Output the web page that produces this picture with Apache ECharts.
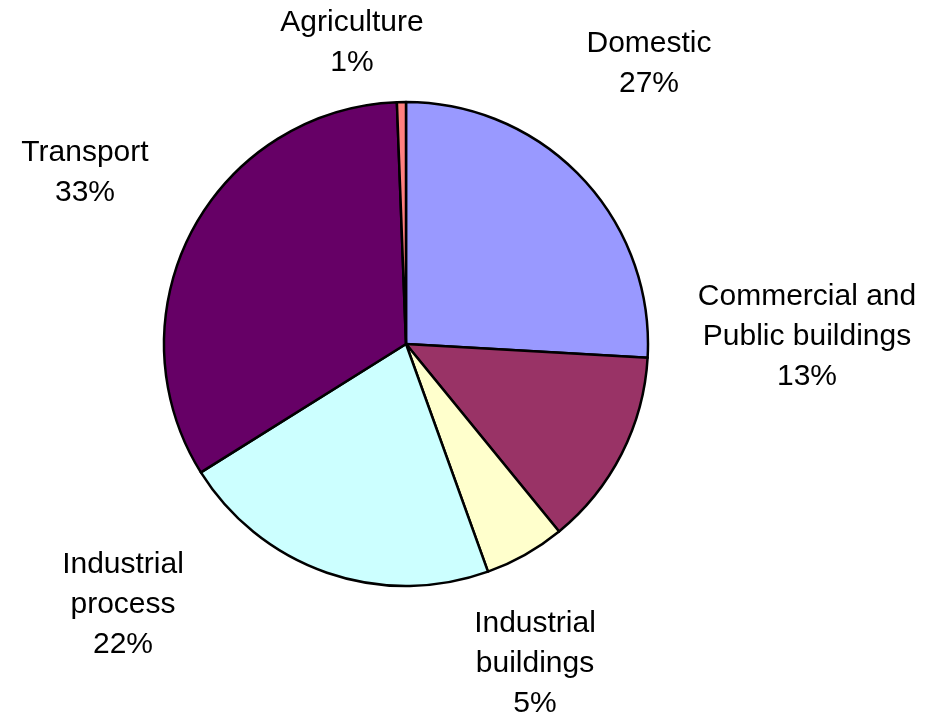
<!DOCTYPE html>
<html>
<head>
<meta charset="utf-8">
<script src="https://cdn.jsdelivr.net/npm/echarts@6/dist/echarts.min.js"></script>
<style>
  html, body { margin: 0; padding: 0; background: #fff; }
  #main { width: 926px; height: 714px; }
</style>
</head>
<body>
<div id="main"></div>
<script>
// sector names (line breaks as in the picture)
const sectors = [
  'Domestic',
  'Commercial and\nPublic buildings',
  'Industrial\nbuildings',
  'Industrial\nprocess',
  'Transport',
  'Agriculture'
]
// slice sizes
const shares = [25.9, 13.2, 5.4, 21.6, 33.3, 0.6]
// percentages printed on the labels
const pctLabels = [27, 13, 5, 22, 33, 1]
const colors = ['#9999FF', '#993366', '#FFFFCC', '#CCFFFF', '#660066', '#FF8080']

// where each label block sits (centre of text block)
const labelSpots = [
  [649, 64],
  [807, 337],
  [535, 664],
  [123, 605],
  [85, 173],
  [352, 43]
]

const chart = echarts.init(document.getElementById('main'))

const option = {
  animation: false,
  color: colors,
  series: [
    {
      type: 'pie',
      center: [406, 344],
      radius: 242,
      startAngle: 90,
      clockwise: true,
      avoidLabelOverlap: false,
      data: sectors.map((name, i) => ({ name: name, value: shares[i] })),
      itemStyle: {
        borderColor: '#000',
        borderWidth: 2.5
      },
      label: {
        show: true,
        position: 'outside',
        color: '#000',
        fontFamily: 'Liberation Sans, Arial, sans-serif',
        fontSize: 30,
        lineHeight: 40,
        align: 'center',
        formatter: (p) => p.name + '\n' + pctLabels[p.dataIndex] + '%'
      },
      labelLine: { show: false },
      labelLayout: (params) => {
        const spot = labelSpots[params.dataIndex]
        return {
          x: spot[0],
          y: spot[1],
          align: 'center',
          verticalAlign: 'middle'
        }
      },
      emphasis: { disabled: true }
    }
  ]
}

chart.setOption(option)
</script>
</body>
</html>
